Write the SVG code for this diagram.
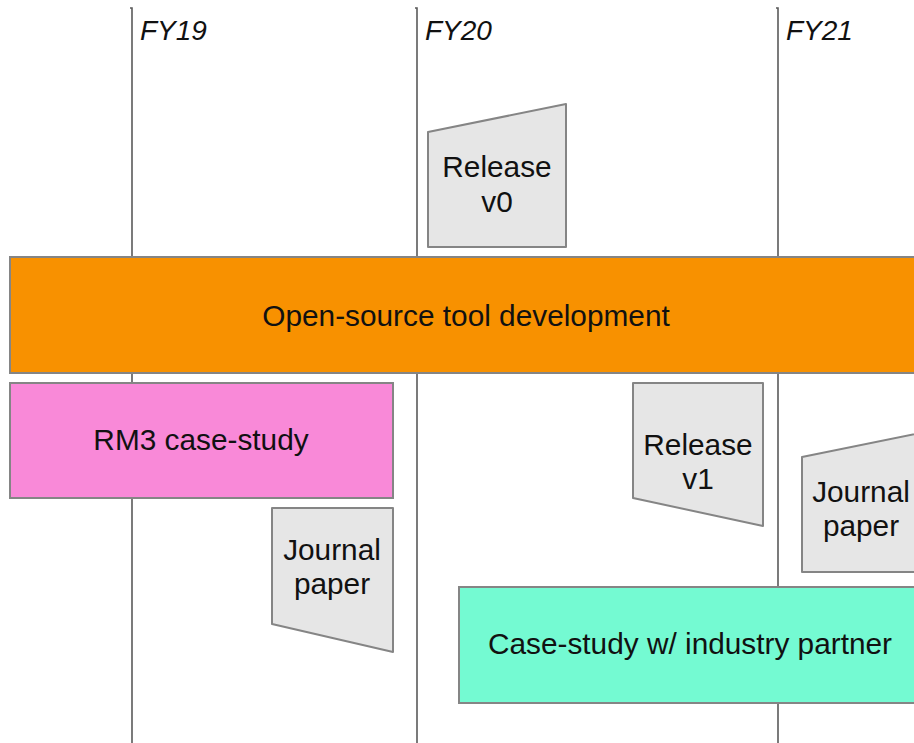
<svg xmlns="http://www.w3.org/2000/svg" width="914" height="743" viewBox="0 0 914 743">
<style>
.grid{stroke:#5a5a5a;stroke-width:1.6;fill:none}
.fy{font-family:"Liberation Sans",Arial,sans-serif;font-style:italic;font-size:28px;fill:#111}
.lbl{font-family:"Liberation Sans",Arial,sans-serif;font-size:29.8px;fill:#111;text-anchor:middle}
.box{stroke:#858585;stroke-width:2}
.ms{fill:#e6e6e6;stroke:#858585;stroke-width:2;stroke-linejoin:round}
</style>
<rect width="914" height="743" fill="#ffffff"/>
<g id="timeline">
<path class="grid" d="M130 8 L132 8 L132 743"/>
<path class="grid" d="M415 8 L417 8 L417 743"/>
<path class="grid" d="M776 8 L778 8 L778 743"/>
<text class="fy" x="140" y="40">FY19</text>
<text class="fy" x="425" y="40">FY20</text>
<text class="fy" x="786" y="40">FY21</text>
</g>
<g id="connectors"></g>
<g id="release-v0">
<polygon class="ms" points="428,132 566,104 566,247 428,247"/>
<text class="lbl" x="497" y="177">Release</text>
<text class="lbl" x="497" y="212">v0</text>
</g>
<g id="open-source">
<rect class="box" x="10" y="257" width="910" height="116" fill="#f89100"/>
<text class="lbl" x="466" y="326">Open-source tool development</text>
</g>
<g id="rm3">
<rect class="box" x="10" y="383" width="383" height="115" fill="#f989d8"/>
<text class="lbl" x="201" y="450">RM3 case-study</text>
</g>
<g id="journal-1">
<polygon class="ms" points="272,508 393,508 393,652 272,624"/>
<text class="lbl" x="332" y="560">Journal</text>
<text class="lbl" x="332" y="594">paper</text>
</g>
<g id="release-v1">
<polygon class="ms" points="633,383 763,383 763,526 633,498"/>
<text class="lbl" x="698" y="455">Release</text>
<text class="lbl" x="698" y="489">v1</text>
</g>
<g id="journal-2">
<polygon class="ms" points="802,457 940,429 940,572 802,572"/>
<text class="lbl" x="861" y="502">Journal</text>
<text class="lbl" x="861" y="536">paper</text>
</g>
<g id="industry">
<rect class="box" x="459" y="587" width="470" height="116" fill="#74fad2"/>
<text class="lbl" x="690" y="654">Case-study w/ industry partner</text>
</g>
</svg>
